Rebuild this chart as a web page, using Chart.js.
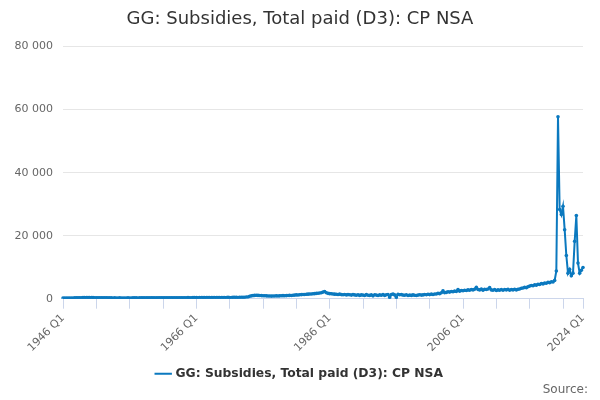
<!DOCTYPE html>
<html>
<head>
<meta charset="utf-8">
<script src="https://cdn.jsdelivr.net/npm/chart.js@4"></script>
<style>
  html, body { margin: 0; padding: 0; background: #fff; }
  #wrap { width: 600px; height: 400px; }
</style>
</head>
<body>
<div id="wrap"><canvas id="chart"></canvas></div>
<script>
const title = "GG: Subsidies, Total paid (D3): CP NSA";
const source = "Source:";

const firstYear = 1946;
const lastYear = 2024;

// quarterly values, £ million
const values1946s = [170, 190, 180, 210, 220, 240, 230, 260, 290, 310, 300, 320, 330, 350, 340, 360];
const values1950s = [340, 330, 350, 320, 310, 300, 320, 290, 280, 270, 290, 260, 250, 260, 240, 250,
  230, 240, 250, 230, 220, 240, 230, 250, 240, 230, 250, 260, 250, 240, 260, 250,
  270, 260, 250, 270, 260, 280, 270, 260];
const values1960s = [260, 280, 270, 290, 280, 270, 290, 300, 290, 280, 300, 310, 300, 290, 310, 320,
  310, 300, 320, 330, 320, 310, 330, 340, 330, 320, 350, 360, 340, 330, 360, 370,
  350, 340, 370, 380, 360, 350, 380, 390];
const values1970s = [380, 370, 400, 410, 390, 380, 420, 430, 410, 400, 440, 460, 450, 470, 520, 560,
  780, 900, 980, 1050, 1100, 1050, 1000, 980, 950, 920, 900, 880, 850, 820, 860, 880,
  900, 870, 910, 940, 960, 930, 980, 1010];
const values1980s = [1050, 1020, 1100, 1150, 1200, 1180, 1250, 1300, 1350, 1320, 1400, 1450, 1500, 1480, 1550, 1600,
  1700, 1750, 1800, 1900, 2100, 2300, 1900, 1700, 1600, 1550, 1500, 1450, 1400, 1350, 1450, 1300,
  1250, 1350, 1200, 1300, 1250, 1150, 1300, 1200];
const values1990s = [1100, 1250, 1050, 1200, 1150, 1000, 1300, 1100, 1050, 1200, 900, 1250, 1150, 1000, 1200, 1100,
  1300, 1050, 1250, 1350, 400, 1300, 1500, 1200, 350, 1400, 1250, 1300, 1150, 1100, 1250, 1000,
  1150, 1050, 1200, 1100, 1000, 1150, 1250, 1150];
const values2000s = [1200, 1350, 1250, 1400, 1300, 1450, 1350, 1500, 1500, 1700, 1600, 1900, 2500, 1900, 2000, 2200,
  2100, 2300, 2200, 2400, 2300, 2900, 2400, 2600, 2500, 2700, 2600, 2800, 2700, 2900, 2800, 3000,
  3600, 2900, 2800, 3100, 2700, 3000, 2900, 3100];
const values2010s = [3500, 2800, 2700, 2900, 2600, 2800, 2700, 2900, 2700, 2900, 2800, 3000, 2700, 2900, 2800, 3000,
  2800, 3000, 3100, 3300, 3400, 3600, 3500, 3800, 4000, 4200, 4100, 4400, 4300, 4600, 4500, 4800,
  4700, 5000, 4900, 5200, 5100, 5400, 5300, 5800];
const values2020s = [8800, 57700, 28300, 26700, 29300, 21900, 13700, 8100, 9300, 7300, 8100, 18200, 26400, 11300, 8100, 9000,
  9900];

const values = [].concat(values1946s, values1950s, values1960s, values1970s,
  values1980s, values1990s, values2000s, values2010s, values2020s);

const labels = [];
for (let y = firstYear; y <= lastYear; y++) {
  for (let q = 1; q <= 4; q++) {
    if (y === lastYear && q > 1) break;
    labels.push(y + " Q" + q);
  }
}

const yTicks = [0, 20000, 40000, 60000, 80000];
const xLabelled = ["1946 Q1", "1966 Q1", "1986 Q1", "2006 Q1", "2024 Q1"];

const blue = "#0b79bf";
const font = "'DejaVu Sans', sans-serif";

function spaced(n) {
  return String(n).replace(/\B(?=(\d{3})+(?!\d))/g, " ");
}

// "Source:" in the bottom right corner
const sourcePlugin = {
  id: "sourceText",
  afterDraw(chart) {
    const ctx = chart.ctx;
    ctx.save();
    ctx.font = "12px " + font;
    ctx.fillStyle = "#666";
    ctx.textAlign = "right";
    ctx.textBaseline = "middle";
    ctx.fillText(source, 588, 390);
    ctx.restore();
  }
};

new Chart(document.getElementById("chart"), {
  type: "line",
  data: {
    labels: labels,
    datasets: [{
      label: title,
      data: values,
      borderColor: blue,
      backgroundColor: blue,
      borderWidth: 2,
      pointRadius: 1.8,
      pointBorderWidth: 0,
      pointBackgroundColor: blue,
      tension: 0
    }]
  },
  plugins: [sourcePlugin],
  options: {
    responsive: true,
    maintainAspectRatio: false,
    animation: false,
    layout: { padding: { left: 0, right: 0, top: 0, bottom: 10 } },
    plugins: {
      title: {
        display: true,
        text: title,
        color: "#333",
        font: { family: font, size: 18, weight: "normal" },
        padding: { top: 9, bottom: 16 }
      },
      legend: {
        position: "bottom",
        labels: {
          color: "#333",
          font: { family: font, size: 12.3, weight: "bold" },
          usePointStyle: true,
          boxWidth: 16,
          padding: 10,
          generateLabels: function (chart) {
            return chart.data.datasets.map((ds, i) => ({
              text: ds.label,
              fillStyle: blue,
              strokeStyle: blue,
              lineWidth: 2,
              pointStyle: "line",
              fontColor: "#333",
              datasetIndex: i
            }));
          }
        }
      },
      tooltip: { enabled: false }
    },
    scales: {
      x: {
        type: "category",
        grid: {
          drawOnChartArea: false,
          drawTicks: true,
          tickLength: 10,
          color: "#ccd6eb"
        },
        border: { color: "#ccd6eb" },
        ticks: {
          autoSkip: false,
          maxRotation: 45,
          minRotation: 45,
          color: "#666",
          font: { family: font, size: 11 },
          callback: function (val, i) {
            const lab = labels[i];
            if (xLabelled.includes(lab)) return lab;
            if (i % 20 === 0) return "";
            return null;
          }
        },
        afterFit: function (s) { s.height = 59; }
      },
      y: {
        min: 0,
        max: 80000,
        afterBuildTicks: function (s) { s.ticks = yTicks.map(v => ({ value: v })); },
        grid: { color: "#e6e6e6", drawTicks: false },
        border: { display: false },
        ticks: {
          color: "#666",
          font: { family: font, size: 11 },
          padding: 10,
          callback: v => spaced(v)
        },
        afterFit: function (s) { s.width = 63; }
      },
      // empty right-hand strip so the title and legend stay centred on the page
      yRight: {
        position: "right",
        display: true,
        grid: { display: false },
        border: { display: false },
        ticks: { display: false },
        afterFit: function (s) { s.width = 17; }
      }
    }
  }
});
</script>
</body>
</html>
